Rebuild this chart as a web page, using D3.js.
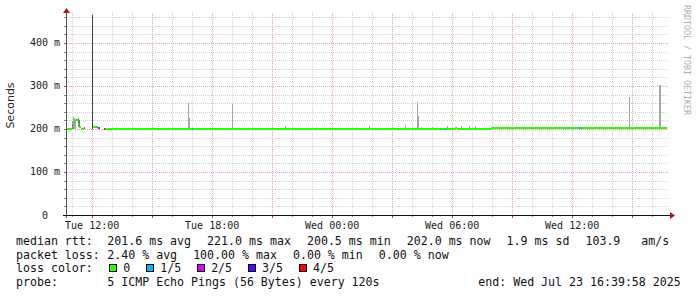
<!DOCTYPE html>
<html><head><meta charset="utf-8">
<script src="https://cdn.jsdelivr.net/npm/d3@7/dist/d3.min.js"></script>
<style>
body{margin:0;background:#fff;}
svg{display:block;}
text{font-family:"DejaVu Sans Mono",monospace;white-space:pre;}
</style></head><body>
<svg id="c" width="697" height="297"></svg>
<script>
// ---------- data ----------
const startTime = "2025-07-22T10:43";
const endTime = "2025-07-23T16:43";
const yMax = 465;
const yLabelTicks = [0, 100, 200, 300, 400];
const yMinorStep = 20;
const xLabelTimes = ["2025-07-22T12:00","2025-07-22T18:00","2025-07-23T00:00","2025-07-23T06:00","2025-07-23T12:00"];
const xLabels = ["Tue 12:00","Tue 18:00","Wed 00:00","Wed 06:00","Wed 12:00"];

const medianTimes = ["2025-07-22T10:45","2025-07-22T10:58","2025-07-22T11:04","2025-07-22T11:10","2025-07-22T11:16","2025-07-22T11:19","2025-07-22T11:25","2025-07-22T11:34","2025-07-22T11:37","2025-07-22T12:01","2025-07-22T12:10","2025-07-22T12:13","2025-07-22T12:16","2025-07-22T12:22","2025-07-22T12:34","2025-07-22T12:38","2025-07-22T16:58","2025-07-22T17:01","2025-07-23T04:25","2025-07-23T04:28","2025-07-23T05:37","2025-07-23T05:40","2025-07-23T06:07","2025-07-23T06:13","2025-07-23T07:55","2025-07-23T11:46","2025-07-23T11:49","2025-07-23T12:19","2025-07-23T12:25"];
const medianValues = [201,214,219,221,212,204,200.5,202,null,205,205,205,202,null,201,201,201,201,203,201,201,201,203,201,202,202,202,203,202];
const lossValues = [0,0,0,0,0,0,0,2,5,0,1,0,2,5,4,0,1,0,0,0,1,0,0,0,0,1,0,1,0];

const smokeTimes = ["2025-07-22T10:58","2025-07-22T11:01","2025-07-22T11:04","2025-07-22T11:07","2025-07-22T11:16","2025-07-22T11:19","2025-07-22T11:59","2025-07-22T16:47","2025-07-22T16:50","2025-07-22T18:58","2025-07-22T21:37","2025-07-23T01:49","2025-07-23T03:37","2025-07-23T04:14","2025-07-23T04:17","2025-07-23T04:58","2025-07-23T05:43","2025-07-23T06:25","2025-07-23T06:49","2025-07-23T07:07","2025-07-23T14:50","2025-07-23T16:19","2025-07-23T16:22"];
const smokeLow  = [201,201,201,201,205,203,200,202,202,202,202,202,202,202,202,202,202,202,202,202,202,202,202];
const smokeHigh = [219,228,226,224,226,222,465,260,225,258,206,206,209,263,231,205,206,206,206,206,274,302,302];
const smokeRank = [2,1,1,1,2,2,3,1,1,1,1,1,1,1,1,1,1,1,1,1,1,1,1];
const smokeStepMinutes = 3;

const lossLabels = ["0","1/5","2/5","3/5","4/5"];
const lossColors = ["#26ff00","#00b8ff","#dd00ff","#5e00ff","#ff0000"];

const rttTitle = "median rtt:";
const rttStats = ["201.6 ms avg","221.0 ms max","200.5 ms min","202.0 ms now","1.9 ms sd","103.9   am/s"];
const lossTitle = "packet loss:";
const lossStats = ["2.40 % avg","100.00 % max","0.00 % min","0.00 % now"];
const colorTitle = "loss color:";
const probeTitle = "probe:";
const probeText = "5 ICMP Echo Pings (56 Bytes) every 120s";
const endText = "end: Wed Jul 23 16:39:58 2025";
const yTitle = "Seconds";
const credit = "RRDTOOL / TOBI OETIKER";

// ---------- drawing ----------
const parse = d3.timeParse("%Y-%m-%dT%H:%M");
const svg = d3.select("#c");
const L = 66.5, R = 666.5, T = 15, B = 215;
const x = d3.scaleTime().domain([parse(startTime), parse(endTime)]).range([L, R]);
const y = d3.scaleLinear().domain([0, yMax]).range([B, T]);

const minorGrid = "#cfcfcf", majorGrid = "#e6a3a3";
const g = svg.append("g");

// horizontal grid
const yMinor = d3.range(yMinorStep, yMax, yMinorStep);
yMinor.forEach(v => {
  const major = v % 100 === 0;
  g.append("line").attr("x1", L).attr("x2", 669).attr("y1", Math.round(y(v))+0.5).attr("y2", Math.round(y(v))+0.5)
   .attr("stroke", major ? majorGrid : minorGrid).attr("stroke-dasharray", "1,1").attr("shape-rendering","crispEdges");
  g.append("line").attr("x1", 63.5).attr("x2", L).attr("y1", Math.round(y(v))+0.5).attr("y2", Math.round(y(v))+0.5)
   .attr("stroke", major ? "#c04040" : "#888").attr("shape-rendering","crispEdges");
});
// vertical grid
const hours = d3.timeHour.every(1).range(parse(startTime), parse(endTime));
hours.forEach(h => {
  const major = h.getHours() % 3 === 0;
  const xx = Math.round(x(h)) + 0.5;
  g.append("line").attr("x1", xx).attr("x2", xx).attr("y1", T-2).attr("y2", B)
   .attr("stroke", major ? majorGrid : minorGrid).attr("stroke-dasharray", "1,1").attr("shape-rendering","crispEdges");
  g.append("line").attr("x1", xx).attr("x2", xx).attr("y1", B).attr("y2", B + (major ? 3 : 2))
   .attr("stroke", major ? "#c04040" : "#888").attr("shape-rendering","crispEdges");
});

// smoke
const smokeColor = d3.scaleOrdinal().domain([1,2,3]).range(["#a6a6a6","#7a7a7a","#444444"]);
smokeTimes.forEach((t, i) => {
  const t0 = parse(t);
  const t1 = d3.timeMinute.offset(t0, smokeStepMinutes);
  svg.append("rect").attr("x", x(t0)).attr("width", Math.max(1, x(t1) - x(t0)))
    .attr("y", y(smokeHigh[i])).attr("height", y(smokeLow[i]) - y(smokeHigh[i]))
    .attr("fill", smokeColor(smokeRank[i])).attr("shape-rendering","crispEdges");
});

// median line coloured by loss
medianTimes.forEach((t, i) => {
  const v = medianValues[i];
  const loss = lossValues[i];
  if (v === null || loss >= lossColors.length) return;
  const t0 = parse(t);
  const t1 = i + 1 < medianTimes.length ? parse(medianTimes[i+1]) : parse(endTime);
  svg.append("rect").attr("x", x(t0)).attr("width", x(t1) - x(t0))
    .attr("y", y(v) - 1).attr("height", 2)
    .attr("fill", lossColors[loss]).attr("shape-rendering","crispEdges");
});

// axes
svg.append("line").attr("x1", L).attr("x2", L).attr("y1", B + 3).attr("y2", 12)
  .attr("stroke", "#555").attr("shape-rendering","crispEdges");
svg.append("path").attr("d", `M${L-3.5},${13} L${L+3.5},${13} L${L},${8} Z`).attr("fill", "#9b1c1c");
svg.append("line").attr("x1", 63).attr("x2", 671).attr("y1", B + 0.5).attr("y2", B + 0.5)
  .attr("stroke", "#111").attr("shape-rendering","crispEdges");
svg.append("path").attr("d", `M${670},${B-3} L${670},${B+4} L${675},${B+0.5} Z`).attr("fill", "#9b1c1c");

// y labels
yLabelTicks.forEach(v => {
  svg.append("text").attr("x", 60).attr("y", y(v) + 3.5).attr("text-anchor", "end")
    .attr("font-size", "10px").attr("fill", "#222").text(v === 0 ? "0  " : v + " m");
});
// x labels
xLabelTimes.forEach((t, i) => {
  svg.append("text").attr("x", x(parse(t))).attr("y", 228.5).attr("text-anchor", "middle")
    .attr("font-size", "10px").attr("fill", "#222").text(xLabels[i]);
});

// y title
svg.append("text").attr("transform", "translate(14,105.5) rotate(-90)").attr("text-anchor", "middle")
  .attr("font-family", "DejaVu Sans").style("font-family","DejaVu Sans").attr("font-size", "11px").attr("fill", "#222").text(yTitle);
// credit
svg.append("text").attr("transform", "translate(684,5) rotate(90)")
  .attr("font-size", "8.3px").attr("fill", "#b0b0b0").text(credit);

// legend
const fs = "11.6px", cw = 6.985;
function row(title, items, yb) {
  svg.append("text").attr("x", 16).attr("y", yb).attr("font-size", fs).attr("fill", "#111").text(title);
  let cx = 107.3;
  items.forEach(s => {
    svg.append("text").attr("x", cx).attr("y", yb).attr("font-size", fs).attr("fill", "#111").text(s);
    cx += s.length * cw + 16;
  });
}
row(rttTitle, rttStats, 245);
row(lossTitle, lossStats, 258.6);
svg.append("text").attr("x", 16).attr("y", 272.2).attr("font-size", fs).attr("fill", "#111").text(colorTitle);
let bx = 108.7;
lossLabels.forEach((lbl, i) => {
  svg.append("rect").attr("x", bx + 0.5).attr("y", 264.5).attr("width", 7).attr("height", 7)
    .attr("fill", lossColors[i]).attr("stroke", "#000").attr("shape-rendering","crispEdges");
  svg.append("text").attr("x", bx + 14.5).attr("y", 272.2).attr("font-size", fs).attr("fill", "#111").text(lbl);
  bx += 14.5 + lbl.length * cw + 15.5;
});
svg.append("text").attr("x", 16).attr("y", 285.8).attr("font-size", fs).attr("fill", "#111").text(probeTitle);
svg.append("text").attr("x", 107.3).attr("y", 285.8).attr("font-size", fs).attr("fill", "#111").text(probeText);
svg.append("text").attr("x", 478.3).attr("y", 285.8).attr("font-size", fs).attr("fill", "#111").text(endText);
</script>
</body></html>
